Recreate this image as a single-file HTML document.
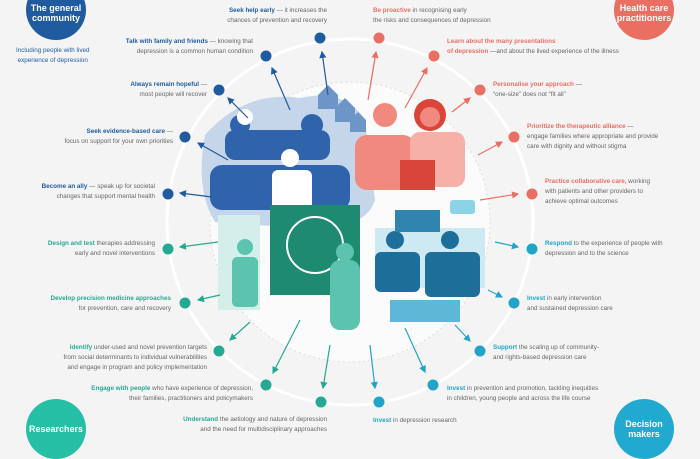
<!DOCTYPE html>
<html><head><meta charset="utf-8"><style>
html,body{margin:0;padding:0;background:#f4f4f4;}
body{width:700px;height:441px;overflow:hidden;position:relative;font-family:"Liberation Sans",sans-serif;}
svg{position:absolute;left:0;top:0}
.t{position:absolute;font-size:6.3px;line-height:10px;color:#666;white-space:nowrap}
.r{text-align:right}
.b{color:#1f5b9e;font-weight:bold}
.c{color:#ea6f63;font-weight:bold}
.g{color:#25a992;font-weight:bold}
.k{color:#22a4c8;font-weight:bold}
.cc{position:absolute;color:#fff;font-weight:bold;font-size:9px;line-height:10px;text-align:center;border-radius:50%;box-sizing:border-box}
</style></head><body>
<svg width="700" height="441" viewBox="0 0 700 441">
<defs>
<marker id="ab" markerWidth="6" markerHeight="6" refX="5" refY="3" orient="auto"><path d="M0,0L6,3L0,6z" fill="#1f5b9e"/></marker>
<marker id="ac" markerWidth="6" markerHeight="6" refX="5" refY="3" orient="auto"><path d="M0,0L6,3L0,6z" fill="#ea6f63"/></marker>
<marker id="ag" markerWidth="6" markerHeight="6" refX="5" refY="3" orient="auto"><path d="M0,0L6,3L0,6z" fill="#25a992"/></marker>
<marker id="ak" markerWidth="6" markerHeight="6" refX="5" refY="3" orient="auto"><path d="M0,0L6,3L0,6z" fill="#22a4c8"/></marker></defs>
<circle cx="350" cy="222" r="183" fill="none" stroke="#fff" stroke-width="3"/>
<circle cx="350" cy="222" r="140" fill="#fbfbfb" stroke="#ddd" stroke-dasharray="2 3"/>
<path d="M205,135 Q245,90 300,98 Q345,88 365,120 L375,200 Q365,232 300,228 L215,222 Q195,190 205,135z" fill="#c5d5ea"/>
<g fill="#2f64ad"><circle cx="240" cy="125" r="10"/><circle cx="312" cy="125" r="11"/><rect x="225" y="130" width="105" height="30" rx="10"/><rect x="210" y="165" width="140" height="45" rx="12"/></g>
<g fill="#fff"><circle cx="290" cy="158" r="9"/><rect x="272" y="170" width="40" height="42" rx="6"/><circle cx="245" cy="117" r="8"/></g>
<g fill="#6d95c8"><path d="M318,95 l10,-10 l10,10 v14 h-20z"/><path d="M335,108 l10,-10 l10,10 v14 h-20z"/><path d="M350,120 l8,-8 l8,8 v12 h-16z"/></g>
<g fill="#f08a7f"><circle cx="385" cy="115" r="12"/><circle cx="430" cy="115" r="16" fill="#d9453b"/><circle cx="430" cy="117" r="10"/><rect x="355" y="135" width="60" height="55" rx="12"/><rect x="410" y="132" width="55" height="55" rx="10" fill="#f6b0a8"/><rect x="400" y="160" width="35" height="30" fill="#d9453b"/></g>
<rect x="270" y="205" width="90" height="90" fill="#1f8a72"/>
<circle cx="315" cy="245" r="28" fill="none" stroke="#fff" stroke-width="2"/>
<rect x="218" y="215" width="42" height="95" fill="#d4efe9"/>
<g fill="#5cc3ae"><circle cx="245" cy="247" r="8"/><rect x="232" y="257" width="26" height="50" rx="5"/><rect x="330" y="260" width="30" height="70" rx="10"/><circle cx="345" cy="252" r="9"/></g>
<rect x="375" y="228" width="110" height="60" fill="#cdeaf3"/>
<g fill="#1d6f9a"><circle cx="395" cy="240" r="9"/><circle cx="450" cy="240" r="9"/><rect x="375" y="252" width="45" height="40" rx="6"/><rect x="425" y="252" width="55" height="45" rx="6"/></g>
<rect x="390" y="300" width="70" height="22" fill="#5cb8d6"/>
<rect x="395" y="210" width="45" height="22" fill="#2f84b0"/>
<rect x="450" y="200" width="25" height="14" rx="3" fill="#8dd3e6"/>
<g stroke-width="1.2" fill="none">
<g stroke="#1f5b9e"><line x1="328" y1="95" x2="322" y2="52" marker-end="url(#ab)"/><line x1="290" y1="110" x2="272" y2="68" marker-end="url(#ab)"/><line x1="248" y1="118" x2="228" y2="98" marker-end="url(#ab)"/><line x1="228" y1="160" x2="198" y2="143" marker-end="url(#ab)"/><line x1="212" y1="197" x2="180" y2="193" marker-end="url(#ab)"/></g>
<g stroke="#ea6f63"><line x1="368" y1="100" x2="376" y2="52" marker-end="url(#ac)"/><line x1="405" y1="108" x2="427" y2="68" marker-end="url(#ac)"/><line x1="452" y1="112" x2="470" y2="98" marker-end="url(#ac)"/><line x1="478" y1="155" x2="502" y2="142" marker-end="url(#ac)"/><line x1="480" y1="200" x2="518" y2="194" marker-end="url(#ac)"/></g>
<g stroke="#25a992"><line x1="218" y1="242" x2="180" y2="247" marker-end="url(#ag)"/><line x1="220" y1="295" x2="198" y2="300" marker-end="url(#ag)"/><line x1="250" y1="322" x2="230" y2="340" marker-end="url(#ag)"/><line x1="300" y1="320" x2="273" y2="373" marker-end="url(#ag)"/><line x1="330" y1="345" x2="323" y2="388" marker-end="url(#ag)"/></g>
<g stroke="#22a4c8"><line x1="495" y1="242" x2="518" y2="247" marker-end="url(#ak)"/><line x1="488" y1="290" x2="502" y2="297" marker-end="url(#ak)"/><line x1="455" y1="325" x2="470" y2="341" marker-end="url(#ak)"/><line x1="405" y1="328" x2="425" y2="372" marker-end="url(#ak)"/><line x1="370" y1="345" x2="375" y2="388" marker-end="url(#ak)"/></g>
</g>
<g fill="#1f5b9e"><circle cx="320" cy="38" r="5.5"/><circle cx="266" cy="56" r="5.5"/><circle cx="219" cy="90" r="5.5"/><circle cx="185" cy="137" r="5.5"/><circle cx="168" cy="194" r="5.5"/></g>
<g fill="#ea6f63"><circle cx="379" cy="38" r="5.5"/><circle cx="434" cy="56" r="5.5"/><circle cx="480" cy="90" r="5.5"/><circle cx="514" cy="137" r="5.5"/><circle cx="532" cy="194" r="5.5"/></g>
<g fill="#25a992"><circle cx="168" cy="249" r="5.5"/><circle cx="185" cy="303" r="5.5"/><circle cx="219" cy="351" r="5.5"/><circle cx="266" cy="385" r="5.5"/><circle cx="321" cy="402" r="5.5"/></g>
<g fill="#22a4c8"><circle cx="532" cy="249" r="5.5"/><circle cx="514" cy="303" r="5.5"/><circle cx="480" cy="351" r="5.5"/><circle cx="433" cy="385" r="5.5"/><circle cx="379" cy="402" r="5.5"/></g>
</svg>
<div class="cc" style="left:26px;top:-20px;width:60px;height:60px;background:#1f5b9e;padding-top:23px">The general<br>community</div>
<div class="cc" style="left:614px;top:-20px;width:60px;height:60px;background:#ea6f63;padding-top:23px">Health care<br>practitioners</div>
<div class="cc" style="left:26px;top:399px;width:60px;height:60px;background:#25bfa6;padding-top:25px">Researchers</div>
<div class="cc" style="left:614px;top:399px;width:60px;height:60px;background:#22a9cf;padding-top:20px">Decision<br>makers</div>
<div class="t" style="left:16px;top:46px;text-align:center;color:#1f5b9e">Including people with lived<br>experience of depression</div>
<div class="t r" style="right:373px;top:6px"><span class="b">Seek help early</span> — it increases the<br>chances of prevention and recovery</div>
<div class="t r" style="right:447px;top:37px"><span class="b">Talk with family and friends</span> — knowing that<br>depression is a common human condition</div>
<div class="t r" style="right:493px;top:80px"><span class="b">Always remain hopeful</span> —<br>most people will recover</div>
<div class="t r" style="right:527px;top:127px"><span class="b">Seek evidence-based care</span> —<br>focus on support for your own priorities</div>
<div class="t r" style="right:545px;top:182px"><span class="b">Become an ally</span> — speak up for societal<br>changes that support mental health</div>
<div class="t" style="left:373px;top:6px"><span class="c">Be proactive</span> in recognising early<br>the risks and consequences of depression</div>
<div class="t" style="left:447px;top:37px"><span class="c">Learn about the many presentations<br>of depression</span> —and about the lived experience of the illness</div>
<div class="t" style="left:493px;top:80px"><span class="c">Personalise your approach</span> —<br>“one-size” does not “fit all”</div>
<div class="t" style="left:527px;top:122px"><span class="c">Prioritize the therapeutic alliance</span> —<br>engage families where appropriate and provide<br>care with dignity and without stigma</div>
<div class="t" style="left:545px;top:177px"><span class="c">Practice collaborative care,</span> working<br>with patients and other providers to<br>achieve optimal outcomes</div>
<div class="t r" style="right:545px;top:239px"><span class="g">Design and test</span> therapies addressing<br>early and novel interventions</div>
<div class="t r" style="right:529px;top:294px"><span class="g">Develop precision medicine approaches</span><br>for prevention, care and recovery</div>
<div class="t r" style="right:493px;top:343px"><span class="g">Identify</span> under-used and novel prevention targets<br>from social determinants to individual vulnerabilities<br>and engage in program and policy implementation</div>
<div class="t r" style="right:447px;top:384px"><span class="g">Engage with people</span> who have experience of depression,<br>their families, practitioners and policymakers</div>
<div class="t r" style="right:373px;top:415px"><span class="g">Understand</span> the aetiology and nature of depression<br>and the need for multidisciplinary approaches</div>
<div class="t" style="left:545px;top:239px"><span class="k">Respond</span> to the experience of people with<br>depression and to the science</div>
<div class="t" style="left:527px;top:294px"><span class="k">Invest</span> in early intervention<br>and sustained depression care</div>
<div class="t" style="left:493px;top:343px"><span class="k">Support</span> the scaling up of community-<br>and rights-based depression care</div>
<div class="t" style="left:447px;top:384px"><span class="k">Invest</span> in prevention and promotion, tackling inequities<br>in children, young people and across the life course</div>
<div class="t" style="left:373px;top:416px"><span class="k">Invest</span> in depression research</div>
</body></html>
